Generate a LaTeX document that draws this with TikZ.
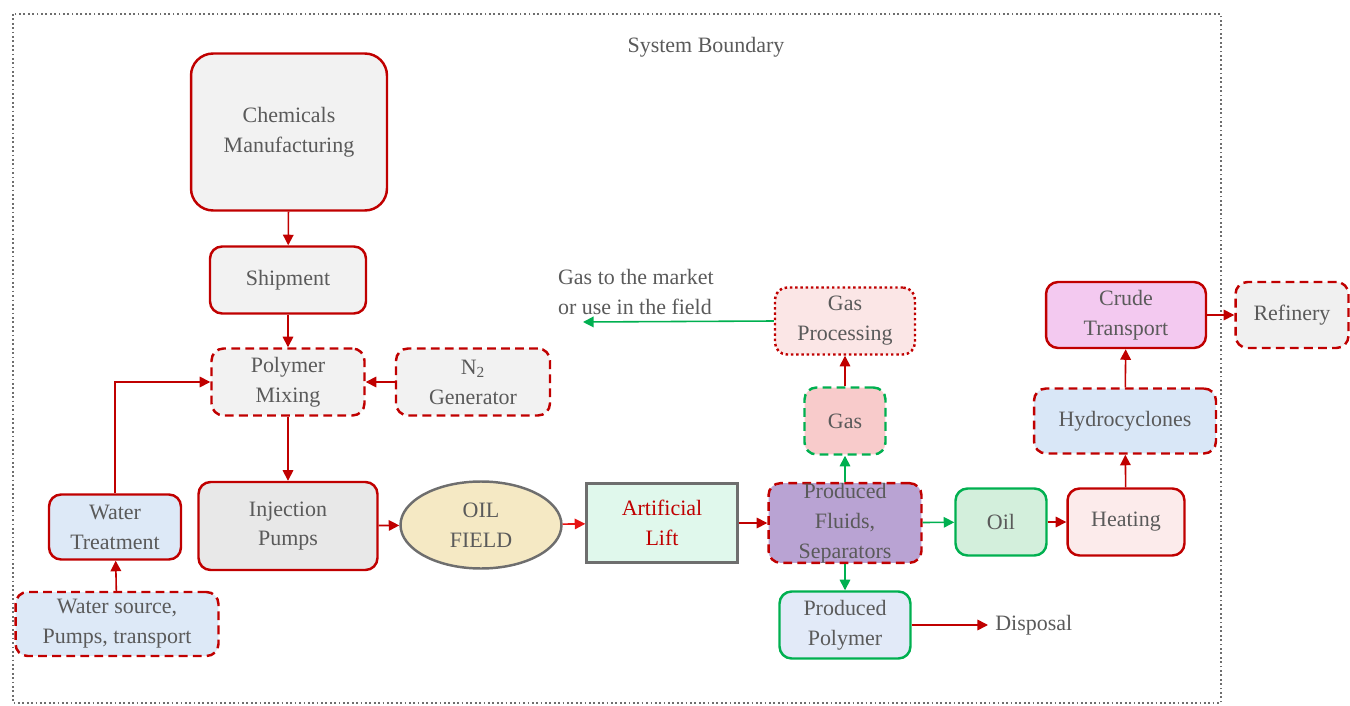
\documentclass[tikz,border=0pt]{standalone}
\usepackage{fontspec}
\setmainfont{Liberation Serif}
\newfontfamily\boxfont{Liberation Serif}
\usetikzlibrary{arrows.meta,shapes.geometric}

\definecolor{boxred}{RGB}{192,0,0}
\definecolor{liftred}{RGB}{230,20,20}
\definecolor{boxgreen}{RGB}{0,176,80}
\definecolor{txtgray}{RGB}{90,90,90}
\definecolor{edgegray}{RGB}{110,110,110}

\tikzset{
  unit/.style={draw=boxred, line width=1.4pt, rounded corners=0.24cm,
    align=center, inner sep=0pt, text=txtgray,
    font=\boxfont\fontsize{12.5}{17}\selectfont},
  dashunit/.style={unit, dash pattern=on 5pt off 3pt},
  dotunit/.style={unit, dash pattern=on 1.4pt off 1.6pt},
  greenunit/.style={unit, draw=boxgreen},
  flow/.style={draw=boxred, line width=0.9pt, -{Triangle[length=6pt,width=6pt]}},
  gflow/.style={flow, draw=boxgreen},
  lbl/.style={text=txtgray, font=\boxfont\fontsize{12.5}{17}\selectfont, inner sep=1pt}
}

\begin{document}
\begin{tikzpicture}[x=0.02cm,y=-0.02cm]

    % page and system boundary
    \useasboundingbox (0,0) rectangle (1350,706);
    \draw[edgegray, line width=1pt, dash pattern=on 1pt off 1.5pt] (13,14) rectangle (1221,703);
    \node[lbl] (sysb) at (706,47) {System Boundary};

    % chemicals supply chain
    \node[unit, fill=black!5, minimum width=3.92cm, minimum height=3.14cm, rounded corners=0.44cm]
      (chem) at (289,132) {Chemicals\\Manufacturing};
    \node[unit, fill=black!5, minimum width=3.12cm, minimum height=1.34cm] (ship) at (288,280) {Shipment};
    \node[dashunit, fill=black!5, minimum width=3.06cm, minimum height=1.34cm] (mix) at (288,382) {Polymer\\Mixing};
    \node[dashunit, fill=black!5, minimum width=3.08cm, minimum height=1.34cm] (ngen) at (473,382) {N\textsubscript{2}\\Generator};

    % water supply
    \node[unit, fill={rgb,255:red,221;green,233;blue,247}, minimum width=2.64cm, minimum height=1.30cm]
      (wtreat) at (115,527) {Water\\Treatment};
    \node[dashunit, fill={rgb,255:red,221;green,233;blue,247}, minimum width=4.06cm, minimum height=1.28cm]
      (wsrc) at (117,624) {Water source,\\Pumps, transport};

    % injection and field
    \node[unit, fill=black!9, minimum width=3.58cm, minimum height=1.76cm] (inj) at (288,526) {Injection\\Pumps};
    \node[ellipse, draw=edgegray, line width=1.4pt, fill={rgb,255:red,245;green,233;blue,196},
      minimum width=3.22cm, minimum height=1.74cm, inner sep=0pt, align=center, text=txtgray,
      font=\boxfont\fontsize{12.5}{17}\selectfont] (field) at (481,525) {OIL\\FIELD};
    \node[draw=edgegray, line width=1.4pt, fill={rgb,255:red,224;green,248;blue,236},
      minimum width=3.02cm, minimum height=1.58cm, inner sep=0pt, align=center, text=boxred,
      font=\boxfont\fontsize{12.5}{17}\selectfont] (lift) at (662,523) {Artificial\\Lift};

    % production side
    \node[dashunit, fill={rgb,255:red,185;green,163;blue,211}, minimum width=3.06cm, minimum height=1.42cm]
      (fluids) at (845,523) {Produced\\Fluids,\\Separators};
    \node[greenunit, fill={rgb,255:red,211;green,239;blue,220}, minimum width=1.82cm, minimum height=1.34cm]
      (oil) at (1001,522) {Oil};
    \node[unit, fill={rgb,255:red,252;green,235;blue,235}, minimum width=2.34cm, minimum height=1.34cm]
      (heat) at (1126,522) {Heating};
    \node[dashunit, fill={rgb,255:red,217;green,231;blue,247}, minimum width=3.64cm, minimum height=1.30cm]
      (hydro) at (1125,421) {Hydrocyclones};
    \node[unit, fill={rgb,255:red,243;green,201;blue,240}, minimum width=3.20cm, minimum height=1.32cm]
      (crude) at (1126,315) {Crude\\Transport};
    \node[dashunit, fill=black!6, minimum width=2.26cm, minimum height=1.32cm] (refin) at (1292,315) {Refinery};

    % gas branch
    \node[dashunit, draw=boxgreen, fill={rgb,255:red,248;green,203;blue,203}, minimum width=1.62cm, minimum height=1.34cm]
      (gas) at (845,421) {Gas};
    \node[dotunit, fill={rgb,255:red,251;green,230;blue,230}, minimum width=2.80cm, minimum height=1.34cm]
      (gproc) at (845,321) {Gas\\Processing};
    \node[lbl, align=left, anchor=west] (market) at (556,292) {Gas to the market\\or use in the field};
    \coordinate (mktend) at (583,322);

    % produced polymer
    \node[greenunit, fill={rgb,255:red,226;green,234;blue,248}, minimum width=2.62cm, minimum height=1.34cm]
      (ppoly) at (845,625) {Produced\\Polymer};
    \node[lbl, anchor=west, inner sep=4pt] (disp) at (988,625) {Disposal};

    % connectors
    \draw[flow] (chem) -- (ship);
    \draw[flow] (ship) -- (mix);
    \draw[flow] (ngen) -- (mix);
    \draw[flow] (wtreat.north) |- (mix.west);
    \draw[flow] (wsrc) -- (wtreat);
    \draw[flow] (mix) -- (inj);
    \draw[flow] (inj) -- (field);
    \draw[flow, draw=liftred] (field) -- (lift);
    \draw[flow] (lift.east) -- (fluids.west |- lift.east);
    \draw[gflow] (fluids) -- (gas);
    \draw[gflow] (fluids) -- (oil);
    \draw[gflow] (fluids) -- (ppoly);
    \draw[flow] (gas) -- (gproc);
    \draw[gflow] (gproc.west) -- (mktend);
    \draw[flow] (oil) -- (heat);
    \draw[flow] (heat) -- (hydro);
    \draw[flow] (hydro) -- (crude);
    \draw[flow] (crude) -- (refin);
    \draw[flow] (ppoly) -- (disp);

\end{tikzpicture}
\end{document}
